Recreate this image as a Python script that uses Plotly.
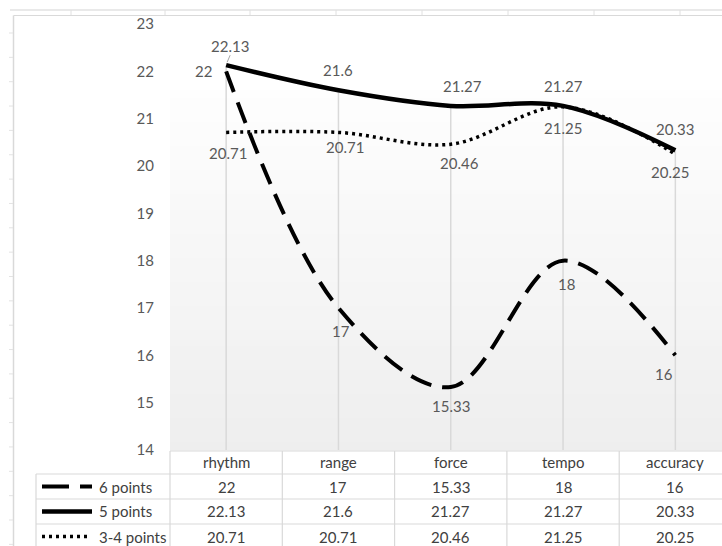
import plotly.graph_objects as go

# ---- data -------------------------------------------------------------
categories = ["rhythm", "range", "force", "tempo", "accuracy"]
series_names = ["6 points", "5 points", "3-4 points"]
six_points = [22, 17, 15.33, 18, 16]
five_points = [22.13, 21.6, 21.27, 21.27, 20.33]
three_four_points = [20.71, 20.71, 20.46, 21.25, 20.25]
y_ticks = [14, 15, 16, 17, 18, 19, 20, 21, 22, 23]

series_values = [six_points, five_points, three_four_points]

# ---- styling ----------------------------------------------------------
W, H = 722, 546
L, T, B = 170, 24, 96          # margins; plot area spans x 170..722, y 24..450
PW, PH = W - L, H - T - B
CAT_W = 112.3                   # width of one category band in pixels

FONT = "Lato"
LABEL_COLOR = "#595959"
TABLE_COLOR = "#404040"
GRID = "#d9d9d9"

line_styles = [
    dict(color="black", width=4, dash="22px,11px"),
    dict(color="black", width=4.5, dash="solid"),
    dict(color="black", width=3.5, dash="3px,4px"),
]

# pixel offsets (dx, dy-up) of each data label from its point
label_offsets = [
    [(-23, 0), (3, -23), (0, -19), (3, -23), (-11, -19)],
    [(4, 19), (0, 20), (12, 20), (0, 20), (0, 21)],
    [(2, -21), (7, -15), (9, -19), (0, -21), (-5, -18)],
]


def px(x):
    """pixel x -> paper x"""
    return (x - L) / PW


def py(y):
    """pixel y -> paper y"""
    return (H - B - y) / PH


fig = go.Figure()

x_idx = list(range(len(categories)))
for name, vals, style in zip(series_names, series_values, line_styles):
    fig.add_trace(go.Scatter(
        x=x_idx, y=vals, name=name, mode="lines",
        line=dict(shape="spline", smoothing=1.0, **style),
        hoverinfo="skip", showlegend=False, cliponaxis=False,
    ))

shapes = []

# plot-area gradient fill (white at top, light grey towards the axis)
grad_top, grad_bot, n_bands = 90, 450, 45
step = (grad_bot - grad_top) / n_bands
for k in range(n_bands):
    g = round(254 - (254 - 238) * (k + 0.5) / n_bands)
    shapes.append(dict(
        type="rect", xref="paper", yref="paper", layer="below",
        x0=0, x1=1, y0=py(grad_top + (k + 1) * step + 0.5), y1=py(grad_top + k * step),
        line=dict(width=0), fillcolor=f"rgb({g},{g},{g})",
    ))

# drop lines from the highest value in each category down to the axis
for i in x_idx:
    top = max(v[i] for v in series_values)
    shapes.append(dict(
        type="line", xref="x", yref="y", layer="below",
        x0=i, x1=i, y0=y_ticks[0], y1=top,
        line=dict(color=GRID, width=1.5),
    ))

# leader line of the first "5 points" label
shapes.append(dict(
    type="line", xref="x", yref="y", xsizemode="pixel", ysizemode="pixel",
    xanchor=0, yanchor=five_points[0], x0=1, x1=4, y0=3, y1=10,
    line=dict(color="#a6a6a6", width=1),
))

# worksheet grid and chart border behind the chart
shapes.append(dict(type="line", xref="paper", yref="paper",
                   x0=px(10), x1=px(W), y0=py(10), y1=py(10),
                   line=dict(color="#d4d4d4", width=1.2)))
shapes.append(dict(type="line", xref="paper", yref="paper",
                   x0=px(13.5), x1=px(W), y0=py(15.5), y1=py(15.5),
                   line=dict(color=GRID, width=1.2)))
shapes.append(dict(type="line", xref="paper", yref="paper",
                   x0=px(13.5), x1=px(13.5), y0=py(15.5), y1=py(H),
                   line=dict(color=GRID, width=1.5)))
for cx in [71, 165, 250, 336, 422, 508, 594, 680]:
    shapes.append(dict(type="line", xref="paper", yref="paper",
                       x0=px(cx), x1=px(cx), y0=py(10), y1=py(15),
                       line=dict(color="#e0e0e0", width=1)))
ry = 33.0
while ry < H:
    shapes.append(dict(type="line", xref="paper", yref="paper",
                       x0=px(9), x1=px(13), y0=py(ry), y1=py(ry),
                       line=dict(color="#e3e3e3", width=1)))
    ry += 24.35

# ---- data table under the plot -----------------------------------------
row_tops = [451, 474, 499, 524, 549]
tbl_line = dict(color=GRID, width=1.2)
shapes.append(dict(type="line", xref="paper", yref="paper",
                   x0=0, x1=1, y0=py(row_tops[0]), y1=py(row_tops[0]), line=tbl_line))
for rt in row_tops[1:4]:
    shapes.append(dict(type="line", xref="paper", yref="paper",
                       x0=px(36), x1=1, y0=py(rt), y1=py(rt), line=tbl_line))
shapes.append(dict(type="line", xref="paper", yref="paper",
                   x0=px(36), x1=px(36), y0=py(row_tops[1]), y1=py(H), line=tbl_line))
shapes.append(dict(type="line", xref="paper", yref="paper",
                   x0=0, x1=0, y0=py(row_tops[0]), y1=py(H), line=tbl_line))
for i in x_idx[:-1]:
    shapes.append(dict(type="line", xref="x", yref="paper",
                       x0=i + 0.5, x1=i + 0.5, y0=py(row_tops[0]), y1=py(H), line=tbl_line))

# legend keys inside the table
key_y = [(row_tops[r] + row_tops[r + 1]) / 2 for r in range(1, 4)]
key_spans = [(42, 92), (42, 92), (42, 88)]
key_dash = ["27px,11px", "solid", "3px,4px"]
for style, ky, (k0, k1), kd in zip(line_styles, key_y, key_spans, key_dash):
    shapes.append(dict(type="line", xref="paper", yref="paper",
                       x0=px(k0), x1=px(k1), y0=py(ky), y1=py(ky),
                       line=dict(color="black", width=style["width"], dash=kd)))

annotations = []

# data labels
for vals, offs in zip(series_values, label_offsets):
    for i, (v, (dx, dy)) in enumerate(zip(vals, offs)):
        annotations.append(dict(
            x=i, y=v, xref="x", yref="y", text=f"{v:g}", showarrow=False,
            xshift=dx, yshift=dy, xanchor="center", yanchor="middle",
            font=dict(family=FONT, size=15, color=LABEL_COLOR),
        ))

# table header and values
header_y = (row_tops[0] + row_tops[1]) / 2
for i, c in enumerate(categories):
    annotations.append(dict(
        x=i, y=py(header_y), xref="x", yref="paper", text=c, showarrow=False,
        xanchor="center", yanchor="middle",
        font=dict(family=FONT, size=15, color=TABLE_COLOR),
    ))
for name, vals, ky in zip(series_names, series_values, key_y):
    annotations.append(dict(
        x=px(97), y=py(ky), xref="paper", yref="paper", text=name,
        showarrow=False, xanchor="left", yanchor="middle",
        font=dict(family=FONT, size=15, color=TABLE_COLOR),
    ))
    for i, v in enumerate(vals):
        annotations.append(dict(
            x=i, y=py(ky), xref="x", yref="paper", text=f"{v:g}", showarrow=False,
            xanchor="center", yanchor="middle",
            font=dict(family=FONT, size=15, color=TABLE_COLOR),
        ))

fig.update_layout(
    width=W, height=H,
    margin=dict(l=L, r=0, t=T, b=B, pad=0),
    paper_bgcolor="white", plot_bgcolor="rgba(0,0,0,0)",
    shapes=shapes, annotations=annotations, showlegend=False,
    xaxis=dict(range=[-0.5, -0.5 + PW / CAT_W], showticklabels=False,
               showgrid=False, zeroline=False, showline=False, fixedrange=True),
    yaxis=dict(range=[y_ticks[0], y_ticks[-1]], tickvals=y_ticks,
               ticks="outside", ticklen=12, tickcolor="rgba(0,0,0,0)",
               tickfont=dict(family=FONT, size=15, color=LABEL_COLOR),
               showgrid=False, zeroline=False, showline=False, fixedrange=True),
)

fig.write_html("out.html")
